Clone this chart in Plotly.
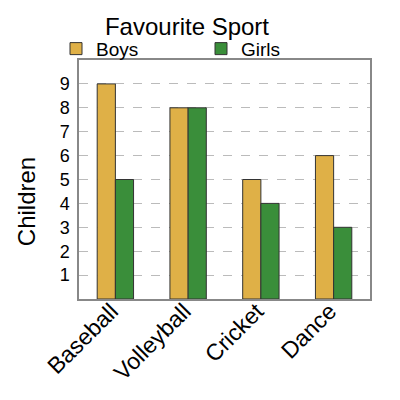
import plotly.graph_objects as go

sports = ["Baseball", "Volleyball", "Cricket", "Dance"]
boys = [9, 8, 5, 6]
girls = [5, 8, 4, 3]
y_ticks = [1, 2, 3, 4, 5, 6, 7, 8, 9]

fig = go.Figure()
fig.add_trace(go.Bar(
    x=sports, y=boys, name="Boys",
    marker=dict(color="#DFB047", line=dict(color="#333333", width=1)),
))
fig.add_trace(go.Bar(
    x=sports, y=girls, name="Girls",
    marker=dict(color="#3A8E3A", line=dict(color="#333333", width=1)),
))

fig.update_layout(
    width=400, height=400,
    margin=dict(l=71, r=38, t=52, b=109),
    paper_bgcolor="white", plot_bgcolor="white",
    font=dict(family="Liberation Sans", color="black"),
    title=dict(text="Favourite Sport", xref="container", x=0.4475, xanchor="center",
               yref="container", y=0.953, yanchor="middle", font=dict(size=24)),
    barmode="group", bargap=0.5, bargroupgap=0,
    showlegend=True,
    legend=dict(orientation="h", x=-0.079, xanchor="left", y=1.047, yanchor="middle",
                font=dict(size=19), entrywidth=100, entrywidthmode="pixels",
                itemwidth=30, tracegroupgap=0, bgcolor="rgba(0,0,0,0)"),
)
# y title sits below the plot's middle in the reference, so it is an annotation
fig.add_annotation(
    text="Children", xref="paper", yref="paper", x=0, y=0.405,
    xanchor="center", yanchor="middle", xshift=-53, textangle=-90,
    showarrow=False, font=dict(size=24),
)
fig.update_xaxes(
    showline=True, linecolor="#888888", linewidth=1.5, mirror=True,
    tickangle=-45, tickfont=dict(size=23), ticks="", automargin=False,
    ticklabelshift=-4, ticklabelstandoff=-12,
)
fig.update_yaxes(
    range=[0, 10], tickvals=y_ticks, tickfont=dict(size=18),
    showline=True, linecolor="#888888", linewidth=1.5, mirror=True,
    showgrid=True, gridcolor="#BBBBBB", griddash="dash", gridwidth=1,
    zeroline=False, ticks="", ticklabelstandoff=4, automargin=False,
)

fig.write_html("out.html")
